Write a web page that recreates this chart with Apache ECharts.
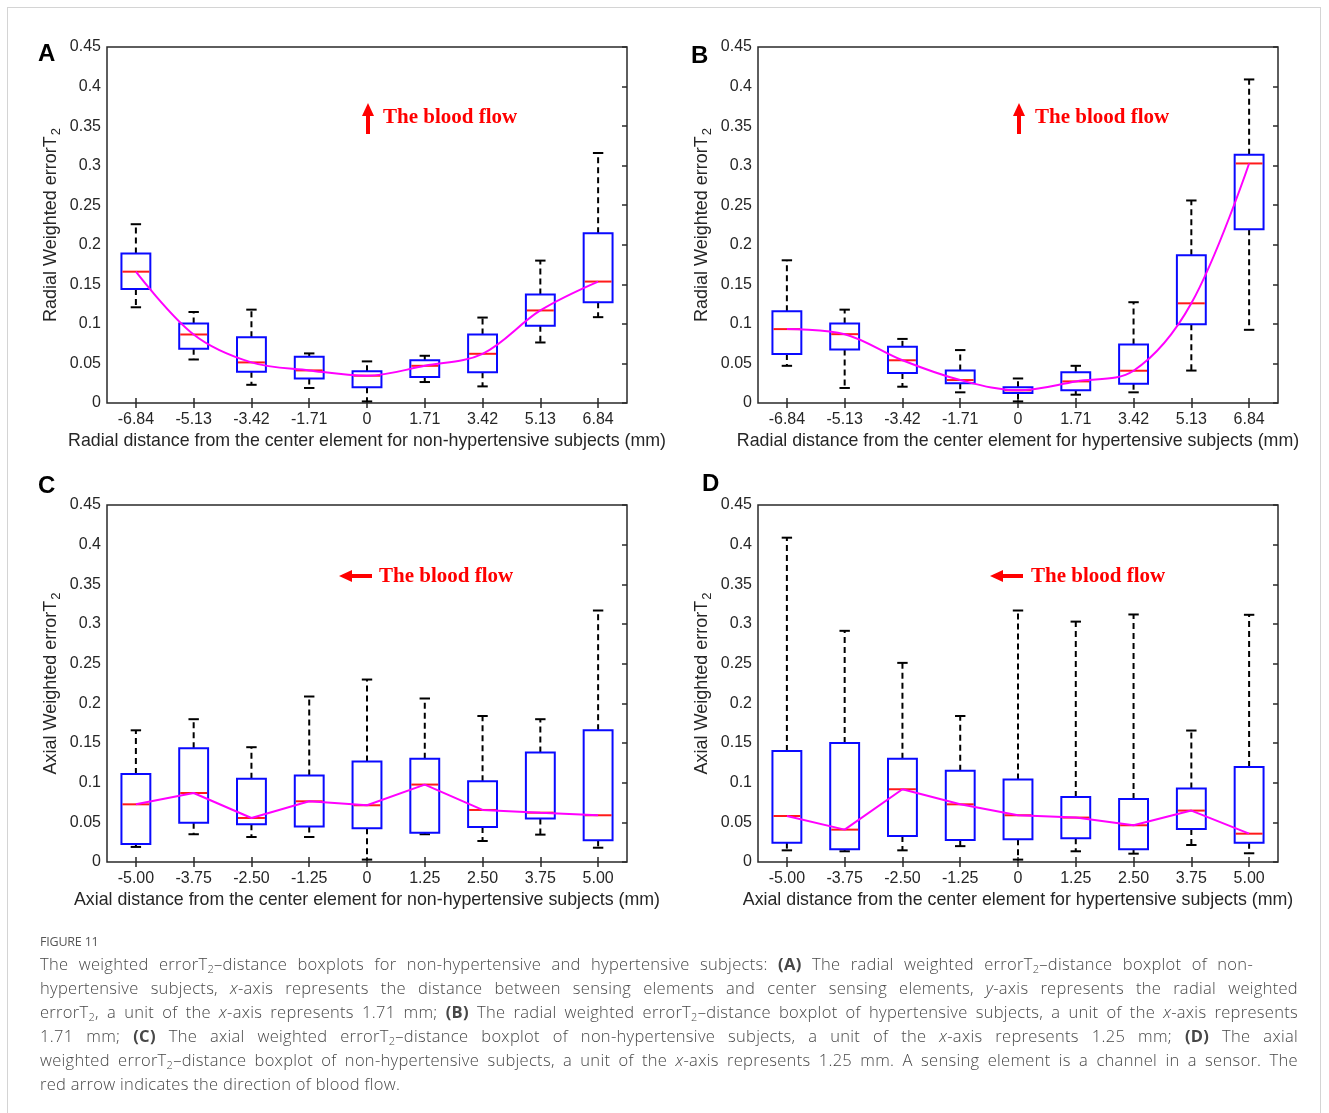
<!DOCTYPE html>
<html>
<head>
<meta charset="utf-8">
<script src="https://cdn.jsdelivr.net/npm/echarts@6/dist/echarts.min.js"></script>
<style>
  html, body { margin: 0; padding: 0; background: #fff; }
  #wrap { position: relative; width: 1329px; height: 1113px; overflow: hidden; }
  #frame { position: absolute; left: 7px; top: 7px; width: 1314px; height: 1200px; border: 1px solid #d4d4d4; box-sizing: border-box; }
  #chart { position: absolute; left: 0; top: 0; width: 1329px; height: 1113px; }
  #caption { position: absolute; left: 40px; top: 932px; width: 1258px; font-family: "Open Sans", sans-serif; color: #474747; }
  #caption .fig { font-size: 12.5px; font-weight: 500; color: #555; line-height: 20px; letter-spacing: -0.2px; }
  #caption .ln { font-size: 16.5px; font-weight: 300; line-height: 24px; letter-spacing: 0.3px; }
  #caption .j { text-align: justify; text-align-last: justify; }
  #caption .first { width: 1213px; }
  #caption b { font-weight: 700; }
  #caption sub { font-size: 11px; line-height: 0; vertical-align: -3px; }
</style>
</head>
<body>
<div id="wrap">
  <div id="frame"></div>
  <div id="chart"></div>
  <div id="caption">
    <div class="fig">FIGURE 11</div>
    <div class="ln j first">The weighted errorT<sub>2</sub>–distance boxplots for non-hypertensive and hypertensive subjects: <b>(A)</b> The radial weighted errorT<sub>2</sub>–distance boxplot of non-</div>
    <div class="ln j">hypertensive subjects, <i>x</i>-axis represents the distance between sensing elements and center sensing elements, <i>y</i>-axis represents the radial weighted</div>
    <div class="ln j">errorT<sub>2</sub>, a unit of the <i>x</i>-axis represents 1.71 mm; <b>(B)</b> The radial weighted errorT<sub>2</sub>–distance boxplot of hypertensive subjects, a unit of the <i>x</i>-axis represents</div>
    <div class="ln j">1.71 mm; <b>(C)</b> The axial weighted errorT<sub>2</sub>–distance boxplot of non-hypertensive subjects, a unit of the <i>x</i>-axis represents 1.25 mm; <b>(D)</b> The axial</div>
    <div class="ln j">weighted errorT<sub>2</sub>–distance boxplot of non-hypertensive subjects, a unit of the <i>x</i>-axis represents 1.25 mm. A sensing element is a channel in a sensor. The</div>
    <div class="ln">red arrow indicates the direction of blood flow.</div>
  </div>
</div>
<script>
// ---------- data ----------
const radialCategories = ['-6.84', '-5.13', '-3.42', '-1.71', '0', '1.71', '3.42', '5.13', '6.84'];
const axialCategories = ['-5.00', '-3.75', '-2.50', '-1.25', '0', '1.25', '2.50', '3.75', '5.00'];
const yTickLabels = ['0', '0.05', '0.1', '0.15', '0.2', '0.25', '0.3', '0.35', '0.4', '0.45'];

// each box: [lower whisker, Q1, median, Q3, upper whisker]
const boxesA = [
  [0.121, 0.144, 0.166, 0.189, 0.226],
  [0.055, 0.0685, 0.0866, 0.1005, 0.115],
  [0.023, 0.0395, 0.0513, 0.083, 0.118],
  [0.019, 0.031, 0.0412, 0.0585, 0.0627],
  [0.002, 0.020, 0.0345, 0.040, 0.0526],
  [0.0265, 0.033, 0.047, 0.054, 0.0597],
  [0.021, 0.039, 0.0622, 0.0866, 0.108],
  [0.0765, 0.0976, 0.117, 0.137, 0.180],
  [0.1085, 0.1274, 0.1535, 0.2145, 0.316]
];
const boxesB = [
  [0.047, 0.0618, 0.0934, 0.116, 0.1804],
  [0.019, 0.0677, 0.087, 0.1005, 0.118],
  [0.0206, 0.038, 0.054, 0.071, 0.081],
  [0.0135, 0.025, 0.029, 0.041, 0.0669],
  [0.002, 0.0126, 0.016, 0.020, 0.031],
  [0.0105, 0.016, 0.0273, 0.039, 0.047],
  [0.0135, 0.0244, 0.0408, 0.074, 0.1274],
  [0.041, 0.0997, 0.126, 0.1867, 0.256],
  [0.0925, 0.2195, 0.3028, 0.3137, 0.409]
];
const boxesC = [
  [0.019, 0.0227, 0.0727, 0.111, 0.166],
  [0.035, 0.0496, 0.087, 0.1434, 0.180],
  [0.0315, 0.0475, 0.0555, 0.105, 0.1447],
  [0.0315, 0.0446, 0.0765, 0.109, 0.2086],
  [0.003, 0.0425, 0.0715, 0.1266, 0.230],
  [0.035, 0.037, 0.0976, 0.130, 0.2061],
  [0.0265, 0.0442, 0.0656, 0.1018, 0.184],
  [0.0345, 0.0547, 0.0622, 0.138, 0.180],
  [0.018, 0.0273, 0.0589, 0.166, 0.317]
];
const boxesD = [
  [0.0147, 0.0244, 0.058, 0.140, 0.4088],
  [0.0135, 0.016, 0.0408, 0.150, 0.2914],
  [0.0147, 0.0328, 0.0917, 0.130, 0.251],
  [0.020, 0.0278, 0.0727, 0.115, 0.184],
  [0.003, 0.0286, 0.0589, 0.104, 0.317],
  [0.0135, 0.030, 0.056, 0.082, 0.303],
  [0.0105, 0.016, 0.0463, 0.0795, 0.312],
  [0.0214, 0.0416, 0.0648, 0.0925, 0.1657],
  [0.011, 0.0244, 0.0357, 0.1198, 0.3116]
];

const panelLetters = ['A', 'B', 'C', 'D'];
const xNames = [
  'Radial distance from the center element for non-hypertensive subjects (mm)',
  'Radial distance from the center element for hypertensive subjects (mm)',
  'Axial distance from the center element for non-hypertensive subjects (mm)',
  'Axial distance from the center element for hypertensive subjects (mm)'
];
const yNames = [
  '{n|Radial Weighted errorT}{s|2}',
  '{n|Radial Weighted errorT}{s|2}',
  '{n|Axial Weighted errorT}{s|2}',
  '{n|Axial Weighted errorT}{s|2}'
];
const flowText = 'The blood flow';

// ---------- layout ----------
const panels = [
  { boxes: boxesA, cats: radialCategories, smooth: 0.35, grid: { left: 107, top: 47, width: 520, height: 356 } },
  { boxes: boxesB, cats: radialCategories, smooth: 0.35, grid: { left: 758, top: 47, width: 520, height: 356 } },
  { boxes: boxesC, cats: axialCategories,  smooth: false, grid: { left: 107, top: 505, width: 520, height: 357 } },
  { boxes: boxesD, cats: axialCategories,  smooth: false, grid: { left: 758, top: 505, width: 520, height: 357 } }
];

const FONT = '"Liberation Sans", Arial, sans-serif';
const TXT = '#262626';
const AX = '#2a2a2a';

function renderBox(params, api) {
  const i = api.value(0);
  const x = api.coord([i, 0])[0];
  const yMin = api.coord([i, api.value(1)])[1];
  const yQ1 = api.coord([i, api.value(2)])[1];
  const yMed = api.coord([i, api.value(3)])[1];
  const yQ3 = api.coord([i, api.value(4)])[1];
  const yMax = api.coord([i, api.value(5)])[1];
  const bw = api.size([1, 0])[0];
  const half = bw * 0.25;
  const cap = bw * 0.09;
  const dash = { stroke: '#000', lineWidth: 2, lineDash: [6, 4] };
  const solid = { stroke: '#000', lineWidth: 2 };
  return {
    type: 'group',
    children: [
      { type: 'line', shape: { x1: x, y1: yQ3, x2: x, y2: yMax }, style: dash },
      { type: 'line', shape: { x1: x, y1: yQ1, x2: x, y2: yMin }, style: dash },
      { type: 'line', shape: { x1: x - cap, y1: yMax, x2: x + cap, y2: yMax }, style: solid },
      { type: 'line', shape: { x1: x - cap, y1: yMin, x2: x + cap, y2: yMin }, style: solid },
      { type: 'rect', shape: { x: x - half, y: yQ3, width: 2 * half, height: yQ1 - yQ3 }, style: { fill: 'none', stroke: '#0a0aff', lineWidth: 2 } },
      { type: 'line', shape: { x1: x - half + 1, y1: yMed, x2: x + half - 1, y2: yMed }, style: { stroke: '#ff1a1a', lineWidth: 2 } }
    ]
  };
}

const grids = [], xAxes = [], yAxes = [], series = [];
panels.forEach((p, k) => {
  grids.push(Object.assign({ show: true, borderColor: AX, borderWidth: 1.5, backgroundColor: '#fff' }, p.grid));
  xAxes.push({
    gridIndex: k, type: 'category', data: p.cats, position: 'bottom',
    axisLine: { show: false },
    axisTick: { show: true, inside: true, alignWithLabel: true, length: 5, lineStyle: { color: AX, width: 1.5 } },
    axisLabel: { margin: 9, fontSize: 16, color: TXT, fontFamily: FONT },
    name: xNames[k], nameLocation: 'middle', nameGap: 29,
    nameTextStyle: { fontSize: 17.8, color: TXT, fontFamily: FONT }
  });
  xAxes.push({
    gridIndex: k, type: 'category', data: p.cats, position: 'top',
    axisLine: { show: false },
    axisTick: { show: true, inside: true, alignWithLabel: true, length: 5, lineStyle: { color: AX, width: 1.5 } },
    axisLabel: { show: false }
  });
  yAxes.push({
    gridIndex: k, type: 'value', min: 0, max: 0.45, interval: 0.05,
    axisLine: { show: false }, axisTick: { show: false }, splitLine: { show: false },
    axisLabel: { margin: 6, fontSize: 16, color: TXT, fontFamily: FONT,
      formatter: (v) => yTickLabels[Math.round(v / 0.05)] },
    name: yNames[k], nameLocation: 'middle', nameGap: 43,
    nameTextStyle: {
      color: TXT, fontFamily: FONT, fontSize: 18,
      rich: {
        n: { fontSize: 18, color: TXT, fontFamily: FONT, lineHeight: 22, verticalAlign: 'top' },
        s: { fontSize: 13, color: TXT, fontFamily: FONT, lineHeight: 22, verticalAlign: 'top', padding: [8, 0, 0, 1] }
      }
    }
  });
  yAxes.push({
    gridIndex: k, type: 'value', min: 0, max: 0.45, interval: 0.05, position: 'right',
    axisLine: { show: false }, splitLine: { show: false },
    axisTick: { show: true, inside: true, length: 5, lineStyle: { color: AX, width: 1.5 } },
    axisLabel: { show: false }
  });
  series.push({
    type: 'custom', xAxisIndex: 2 * k, yAxisIndex: 2 * k,
    renderItem: renderBox,
    encode: { x: 0, y: [1, 2, 3, 4, 5] },
    data: p.boxes.map((b, i) => [i].concat(b)),
    z: 2
  });
  series.push({
    type: 'line', xAxisIndex: 2 * k, yAxisIndex: 2 * k,
    data: p.boxes.map(b => b[2]),
    smooth: p.smooth, showSymbol: false, symbol: 'none',
    lineStyle: { color: '#ff00ff', width: 2 },
    z: 3, silent: true
  });
});

// annotations (panel letters, blood flow arrows)
const letterPos = [[38, 42], [691, 44], [38, 474], [702, 472]];
const graphics = [];
letterPos.forEach((pos, k) => {
  graphics.push({ type: 'text', x: pos[0], y: pos[1], style: { text: panelLetters[k], font: 'bold 24px "Liberation Sans", Arial', fill: '#000' } });
});
function upArrow(cx, top, bottom) {
  graphics.push({ type: 'polygon', shape: { points: [[cx, top], [cx - 6, top + 13], [cx + 6, top + 13]] }, style: { fill: '#ff0000' } });
  graphics.push({ type: 'rect', shape: { x: cx - 2, y: top + 12, width: 4, height: bottom - top - 12 }, style: { fill: '#ff0000' } });
}
function leftArrow(tip, end, cy) {
  graphics.push({ type: 'polygon', shape: { points: [[tip, cy], [tip + 13, cy - 6], [tip + 13, cy + 6]] }, style: { fill: '#ff0000' } });
  graphics.push({ type: 'rect', shape: { x: tip + 12, y: cy - 2, width: end - tip - 12, height: 4 }, style: { fill: '#ff0000' } });
}
function flowLabel(x, cy) {
  graphics.push({ type: 'text', x: x, y: cy, style: { text: flowText, font: 'bold 21px "Liberation Serif", "Times New Roman", serif', fill: '#ff0000', verticalAlign: 'middle' } });
}
upArrow(368, 103, 134); flowLabel(383, 118);
upArrow(1019, 103, 134); flowLabel(1035, 118);
leftArrow(339, 372, 576); flowLabel(379, 577);
leftArrow(990, 1023, 576); flowLabel(1031, 577);

const chart = echarts.init(document.getElementById('chart'), null, { renderer: 'canvas' });
chart.setOption({
  backgroundColor: 'transparent',
  animation: false,
  grid: grids,
  xAxis: xAxes,
  yAxis: yAxes,
  series: series,
  graphic: graphics
});
</script>
</body>
</html>
